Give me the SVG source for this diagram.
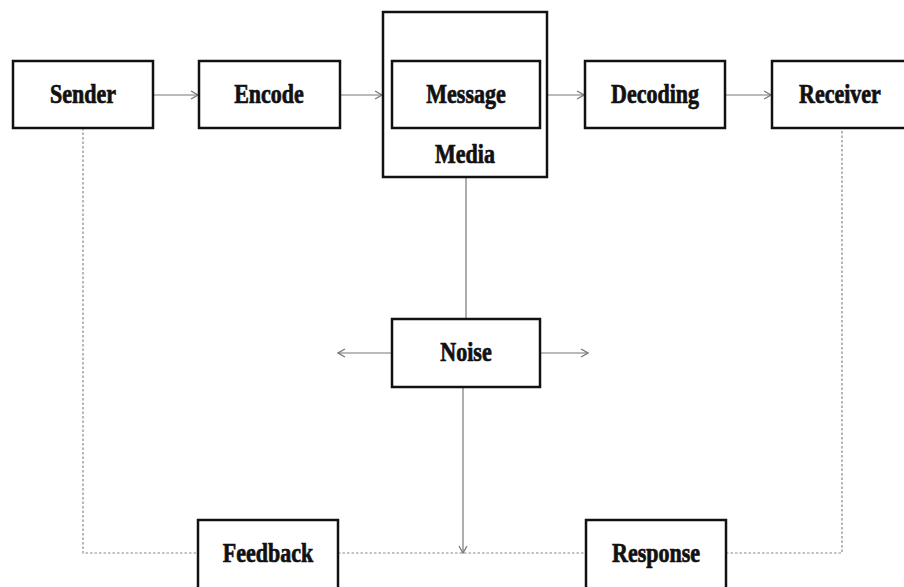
<svg xmlns="http://www.w3.org/2000/svg" width="904" height="587" viewBox="0 0 904 587">
<style>
.box{fill:#fff;stroke:#111;stroke-width:2.5}
.lbl{font-family:"Liberation Serif",serif;font-weight:bold;font-size:22px;fill:#111;stroke:#111;stroke-width:0.6;text-anchor:middle}
.c{fill:none;stroke:#777;stroke-width:1.2}
.d{fill:none;stroke:#888;stroke-width:1.2;stroke-dasharray:2.5 2}
</style>
<defs>
<marker id="ah" viewBox="0 0 10 10" refX="9" refY="5" markerWidth="10" markerHeight="10" markerUnits="userSpaceOnUse" orient="auto">
<path d="M2,1 L9,5 L2,9" fill="none" stroke="#777" stroke-width="1.3"/>
</marker>
</defs>
<rect width="904" height="587" fill="#fff"/>
<g id="connectors">
<line class="c" x1="153" y1="95" x2="198" y2="95" marker-end="url(#ah)"/>
<line class="c" x1="340" y1="95" x2="382" y2="95" marker-end="url(#ah)"/>
<line class="c" x1="547" y1="95" x2="584" y2="95" marker-end="url(#ah)"/>
<line class="c" x1="725" y1="95" x2="771" y2="95" marker-end="url(#ah)"/>
<line class="c" x1="466" y1="177" x2="466" y2="319"/>
<line class="c" x1="392" y1="353" x2="338" y2="353" marker-end="url(#ah)"/>
<line class="c" x1="540" y1="353" x2="588" y2="353" marker-end="url(#ah)"/>
<line class="c" x1="463" y1="387" x2="463" y2="553" marker-end="url(#ah)"/>
<polyline class="d" points="83,128 83,553 198,553"/>
<line class="d" x1="338" y1="553" x2="586" y2="553"/>
<polyline class="d" points="726,553 842,553 842,128"/>
</g>
<g id="sender"><rect class="box" x="13" y="61" width="140" height="67"/><text class="lbl" transform="translate(83,103) scale(1,1.2)">Sender</text></g>
<g id="encode"><rect class="box" x="199" y="61" width="141" height="67"/><text class="lbl" transform="translate(269,103) scale(1,1.2)">Encode</text></g>
<g id="media"><rect class="box" x="383" y="12" width="164" height="165"/><text class="lbl" transform="translate(465,163) scale(1,1.2)">Media</text></g>
<g id="message"><rect class="box" x="392" y="61" width="148" height="67"/><text class="lbl" transform="translate(466,103) scale(1,1.2)">Message</text></g>
<g id="decoding"><rect class="box" x="585" y="61" width="140" height="67"/><text class="lbl" transform="translate(655,103) scale(1,1.2)">Decoding</text></g>
<g id="receiver"><rect class="box" x="772" y="61" width="140" height="67"/><text class="lbl" transform="translate(840,103) scale(1,1.2)">Receiver</text></g>
<g id="noise"><rect class="box" x="392" y="319" width="148" height="68"/><text class="lbl" transform="translate(466,361) scale(1,1.2)">Noise</text></g>
<g id="feedback"><rect class="box" x="198" y="520" width="140" height="70"/><text class="lbl" transform="translate(268,562) scale(1,1.2)">Feedback</text></g>
<g id="response"><rect class="box" x="586" y="520" width="140" height="70"/><text class="lbl" transform="translate(656,562) scale(1,1.2)">Response</text></g>
</svg>
